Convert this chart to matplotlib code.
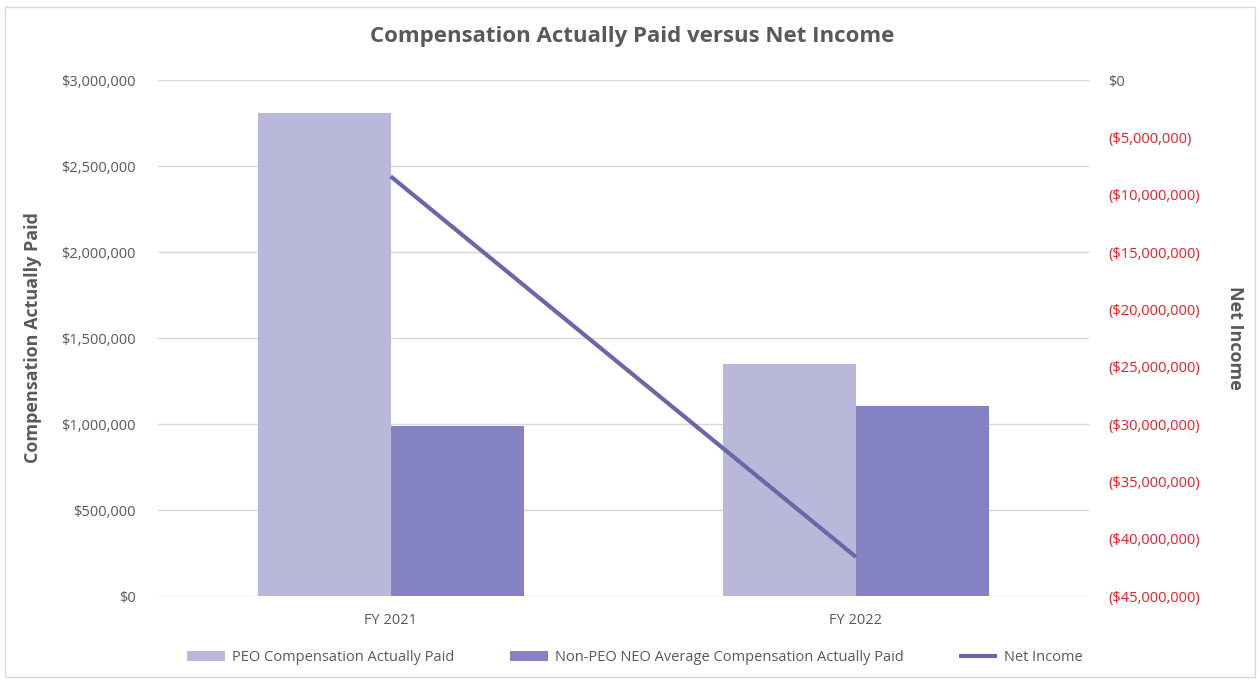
import numpy as np
import matplotlib.pyplot as plt
from matplotlib.patches import Rectangle

plt.rcParams['font.family'] = ['Open Sans', 'DejaVu Sans']

# Data
years = ['FY 2021', 'FY 2022']
peo_cap = [2810000, 1350000]
neo_cap = [990000, 1105000]
net_income = [-8400000, -41600000]

left_ticks = [0, 500000, 1000000, 1500000, 2000000, 2500000, 3000000]
right_ticks = [0, -5000000, -10000000, -15000000, -20000000, -25000000,
               -30000000, -35000000, -40000000, -45000000]

grey = '#595959'
c_peo = '#B9B8DB'
c_neo = '#8482C3'
c_line = '#6A66A8'

fig = plt.figure(figsize=(12.6, 6.81), dpi=100)
ax = fig.add_axes([0.1254, 0.1248, 0.7386, 0.7577])
ax2 = ax.twinx()

x = np.arange(len(years))
w = 0.286
ax.bar(x - w / 2, peo_cap, w, color=c_peo, label='PEO Compensation Actually Paid', zorder=2)
ax.bar(x + w / 2, neo_cap, w, color=c_neo,
       label='Non-PEO NEO Average Compensation Actually Paid', zorder=2)
ax2.plot(x, net_income, color=c_line, lw=3, label='Net Income', solid_capstyle='butt')

ax.set_xlim(-0.5, 1.5)
ax.set_ylim(0, 3000000)
ax2.set_ylim(-45000000, 0)
ax.set_yticks(left_ticks)
ax.set_yticklabels(['$0' if v == 0 else '${:,.0f}'.format(v) for v in left_ticks])
ax2.set_yticks(right_ticks)
ax2.set_yticklabels(['$0' if v == 0 else '(${:,.0f})'.format(-v) for v in right_ticks])

ax.set_xticks(x)
ax.set_xticklabels(years)
ax.grid(axis='y', color='#D9D9D9', lw=1, zorder=0)
ax.set_axisbelow(True)
for a in (ax, ax2):
    for s in a.spines.values():
        s.set_visible(False)
    a.tick_params(length=0, labelsize=10.5, colors=grey)
ax.tick_params(axis='y', pad=16)
ax2.tick_params(axis='y', pad=14)
ax.tick_params(axis='x', pad=12)
for lab, v in zip(ax2.get_yticklabels(), right_ticks):
    lab.set_color(grey if v == 0 else '#E0202A')

ax.set_ylabel('Compensation Actually Paid', fontsize=13, fontweight='bold', color=grey, labelpad=14)
ax2.set_ylabel('Net Income', fontsize=13, fontweight='bold', color=grey, rotation=-90, labelpad=32)

fig.suptitle('Compensation Actually Paid versus Net Income', x=0.502, y=0.962,
             fontsize=16, fontweight='bold', color=grey)

h1, l1 = ax.get_legend_handles_labels()
h2, l2 = ax2.get_legend_handles_labels()
leg = fig.legend(h1 + h2, l1 + l2, loc='center', bbox_to_anchor=(0.504, 0.034), ncol=3,
                 frameon=False, fontsize=10.5, handlelength=2.6, columnspacing=3.8,
                 handletextpad=0.5)
for t in leg.get_texts():
    t.set_color(grey)

fig.patches.append(Rectangle((0.004, 0.006), 0.992, 0.984, transform=fig.transFigure,
                             fill=False, edgecolor='#D9D9D9', lw=1))

fig.savefig('out.png', dpi=100)
